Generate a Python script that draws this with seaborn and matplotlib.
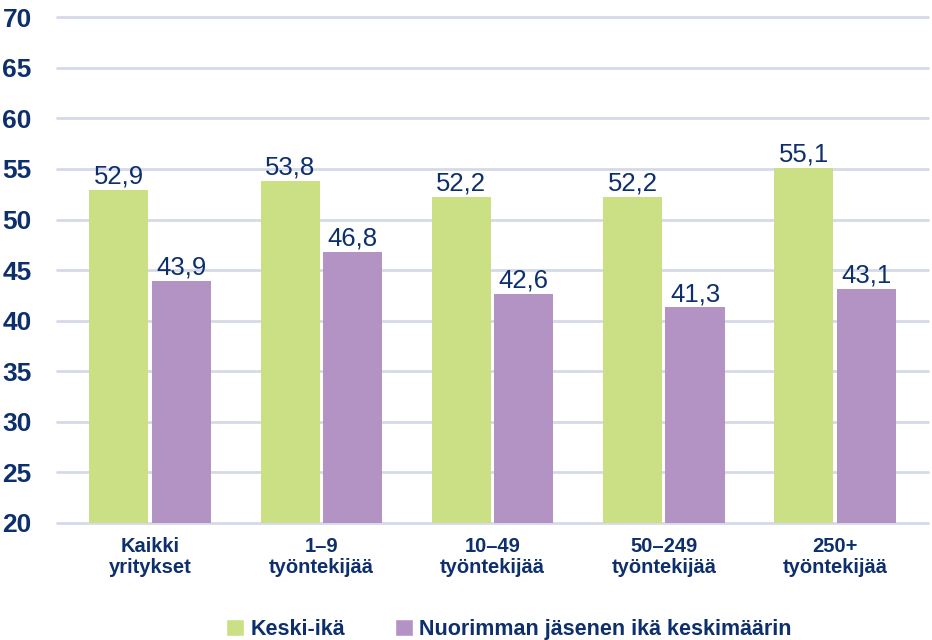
import matplotlib
matplotlib.use("Agg")
import matplotlib.pyplot as plt
from matplotlib.patches import Patch
import pandas as pd
import seaborn as sns

# data
categories = ["Kaikki\nyritykset", "1\u20139\ntyöntekijää", "10\u201349\ntyöntekijää",
              "50\u2013249\ntyöntekijää", "250+\ntyöntekijää"]
series_names = ["Keski-ikä", "Nuorimman jäsenen ikä keskimäärin"]
keski_ika = [52.9, 53.8, 52.2, 52.2, 55.1]
nuorin_ika = [43.9, 46.8, 42.6, 41.3, 43.1]
y_ticks = [20, 25, 30, 35, 40, 45, 50, 55, 60, 65, 70]

NAVY = "#0d2f6b"
GREEN = "#cbdf85"
PURPLE = "#b393c3"
GRID = "#d6d9e8"
FONT = ["Liberation Sans", "DejaVu Sans"]

df = pd.DataFrame({
    "cat": categories * 2,
    "val": keski_ika + nuorin_ika,
    "series": [series_names[0]] * 5 + [series_names[1]] * 5,
})

sns.set_style("white")
plt.rcParams["font.family"] = FONT

fig = plt.figure(figsize=(9.32, 6.4), dpi=100)
ax = fig.add_axes([0.061, 0.183, 0.935, 0.790])

sns.barplot(data=df, x="cat", y="val", hue="series", order=categories,
            hue_order=series_names, palette=[GREEN, PURPLE], width=0.73,
            gap=0.055, ax=ax, legend=False, saturation=1)

# bars start from the 20 baseline, not 0
for patch in ax.patches:
    h = patch.get_height()
    patch.set_y(20)
    patch.set_height(h - 20)
    patch.set_edgecolor("none")

for cont, vals in zip(ax.containers, [keski_ika, nuorin_ika]):
    ax.bar_label(cont, labels=[f"{v:.1f}".replace(".", ",") for v in vals],
                 padding=1, fontsize=18.5, color=NAVY)

ax.set_ylim(20, 70)
ax.set_xlim(-0.545, 4.545)
ax.set_yticks(y_ticks, labels=[str(t) for t in y_ticks])
ax.set_xticks(range(len(categories)), labels=categories)
plt.setp(ax.get_yticklabels(), fontweight="bold", fontsize=19, color=NAVY)
plt.setp(ax.get_xticklabels(), fontweight="bold", fontsize=14.5, color=NAVY,
         linespacing=1.15)
ax.yaxis.grid(True, color=GRID, linewidth=2)
for gl in ax.get_ygridlines():
    gl.set_clip_on(False)
ax.set_axisbelow(True)
for s in ax.spines.values():
    s.set_visible(False)
ax.set_xlabel("")
ax.set_ylabel("")
ax.tick_params(axis="y", length=0, pad=18)
ax.tick_params(axis="x", length=0, pad=10)

handles = [Patch(facecolor=GREEN, label=series_names[0]),
           Patch(facecolor=PURPLE, label=series_names[1])]
fig.legend(handles=handles, loc="lower center", bbox_to_anchor=(0.546, -0.03), ncol=2,
           frameon=False, handlelength=0.85, handleheight=0.85, handletextpad=0.3,
           columnspacing=2.3, prop={"weight": "bold", "size": 15.5},
           labelcolor=NAVY)

fig.savefig("out.png", dpi=100)
